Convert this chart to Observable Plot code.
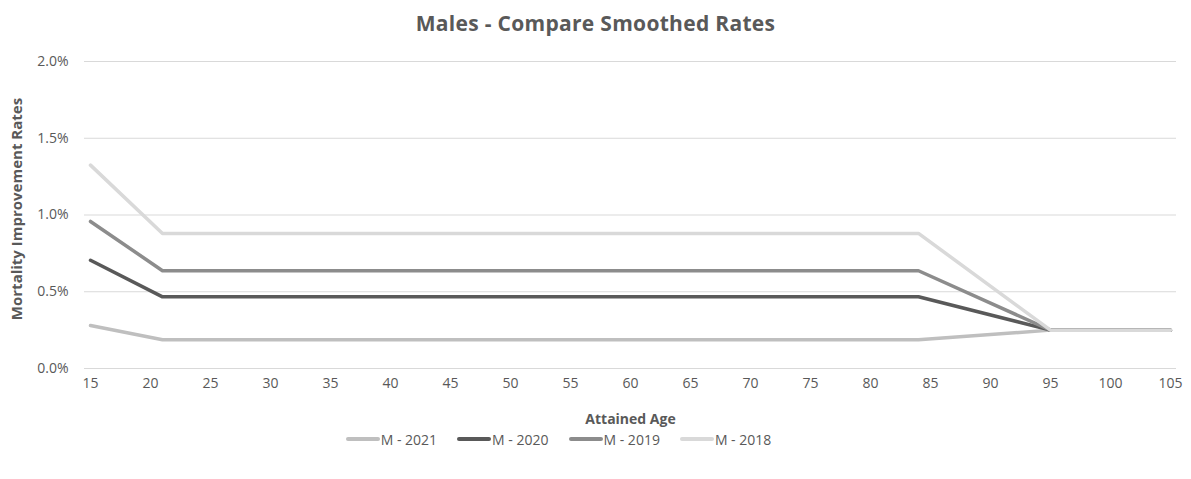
<!DOCTYPE html>
<html>
<head>
<meta charset="utf-8">
<script src="https://cdn.jsdelivr.net/npm/d3@7"></script>
<script src="https://cdn.jsdelivr.net/npm/@observablehq/plot@0.6"></script>
<style>
  body { margin: 0; background: #fff; font-family: "Open Sans", "Liberation Sans", sans-serif; color: #595959; }
  #wrap { width: 1191px; }
  .title { height: 46px; line-height: 46px; text-align: center; font-weight: bold; font-size: 21px; letter-spacing: 0.3px; color: #595959; }
  .legend { display: flex; justify-content: center; gap: 20px; font-size: 14px; color: #595959; height: 22px; align-items: center; padding-right: 74px; }
  .legend .item { display: flex; align-items: center; }
  .legend .sw { width: 34px; height: 4px; border-radius: 2px; margin-right: 1px; }
</style>
</head>
<body>
<div id="wrap">
  <div class="title">Males - Compare Smoothed Rates</div>
  <div id="chart"></div>
  <div class="legend" id="legend"></div>
</div>
<script>
// Attained ages where the smoothed rates change slope
const ages = [15, 21, 84, 95, 105];

// Mortality improvement rates (%) per series at those ages
const m2021 = [0.28, 0.187, 0.187, 0.25, 0.25];
const m2020 = [0.705, 0.467, 0.467, 0.25, 0.25];
const m2019 = [0.958, 0.637, 0.637, 0.25, 0.25];
const m2018 = [1.325, 0.88, 0.88, 0.25, 0.25];

const seriesNames = ["M - 2021", "M - 2020", "M - 2019", "M - 2018"];
const seriesValues = [m2021, m2020, m2019, m2018];
const seriesColors = ["#bfbfbf", "#595959", "#8c8c8c", "#d9d9d9"];

const xTicks = d3.range(15, 106, 5);
const yTicks = [0, 0.5, 1.0, 1.5, 2.0];

const rows = seriesNames.flatMap((name, i) =>
  ages.map((age, j) => ({series: name, age, rate: seriesValues[i][j]}))
);

const font = '"Open Sans", "Liberation Sans", sans-serif';

const chart = Plot.plot({
  width: 1191,
  height: 382,
  marginLeft: 84,
  marginRight: 15,
  marginTop: 15,
  marginBottom: 60,
  style: {fontFamily: font, fontSize: "14px", color: "#595959", background: "#fff"},
  x: {domain: [14.5, 105.5]},
  y: {domain: [0, 2]},
  color: {domain: seriesNames, range: seriesColors},
  marks: [
    Plot.gridY(yTicks, {stroke: "#d9d9d9", strokeOpacity: 1, strokeWidth: 1}),
    Plot.axisY(yTicks, {
      tickSize: 0, tickPadding: 16,
      tickFormat: d => d.toFixed(1) + "%",
      label: null,
      fill: "#595959"
    }),
    Plot.axisX(xTicks, {
      tickSize: 0, tickPadding: 10,
      label: null,
      fill: "#595959"
    }),
    // Axis titles
    Plot.text(["Attained Age"], {
      frameAnchor: "bottom", dy: 55, text: d => d,
      fontWeight: "bold", fontSize: 14, fill: "#595959"
    }),
    Plot.text(["Mortality Improvement Rates"], {
      frameAnchor: "left", textAnchor: "middle", dx: -67, dy: -6, rotate: -90, text: d => d,
      fontWeight: "bold", fontSize: 15, fill: "#595959"
    }),
    Plot.lineY(rows, {
      x: "age", y: "rate", z: "series", stroke: "series",
      strokeWidth: 3.5, strokeLinejoin: "round", strokeLinecap: "round"
    })
  ]
});
document.getElementById("chart").appendChild(chart);

// Legend row
const legend = document.getElementById("legend");
seriesNames.forEach((name, i) => {
  const item = document.createElement("div");
  item.className = "item";
  const sw = document.createElement("span");
  sw.className = "sw";
  sw.style.background = seriesColors[i];
  const label = document.createElement("span");
  label.textContent = name;
  item.appendChild(sw);
  item.appendChild(label);
  legend.appendChild(item);
});
</script>
</body>
</html>
